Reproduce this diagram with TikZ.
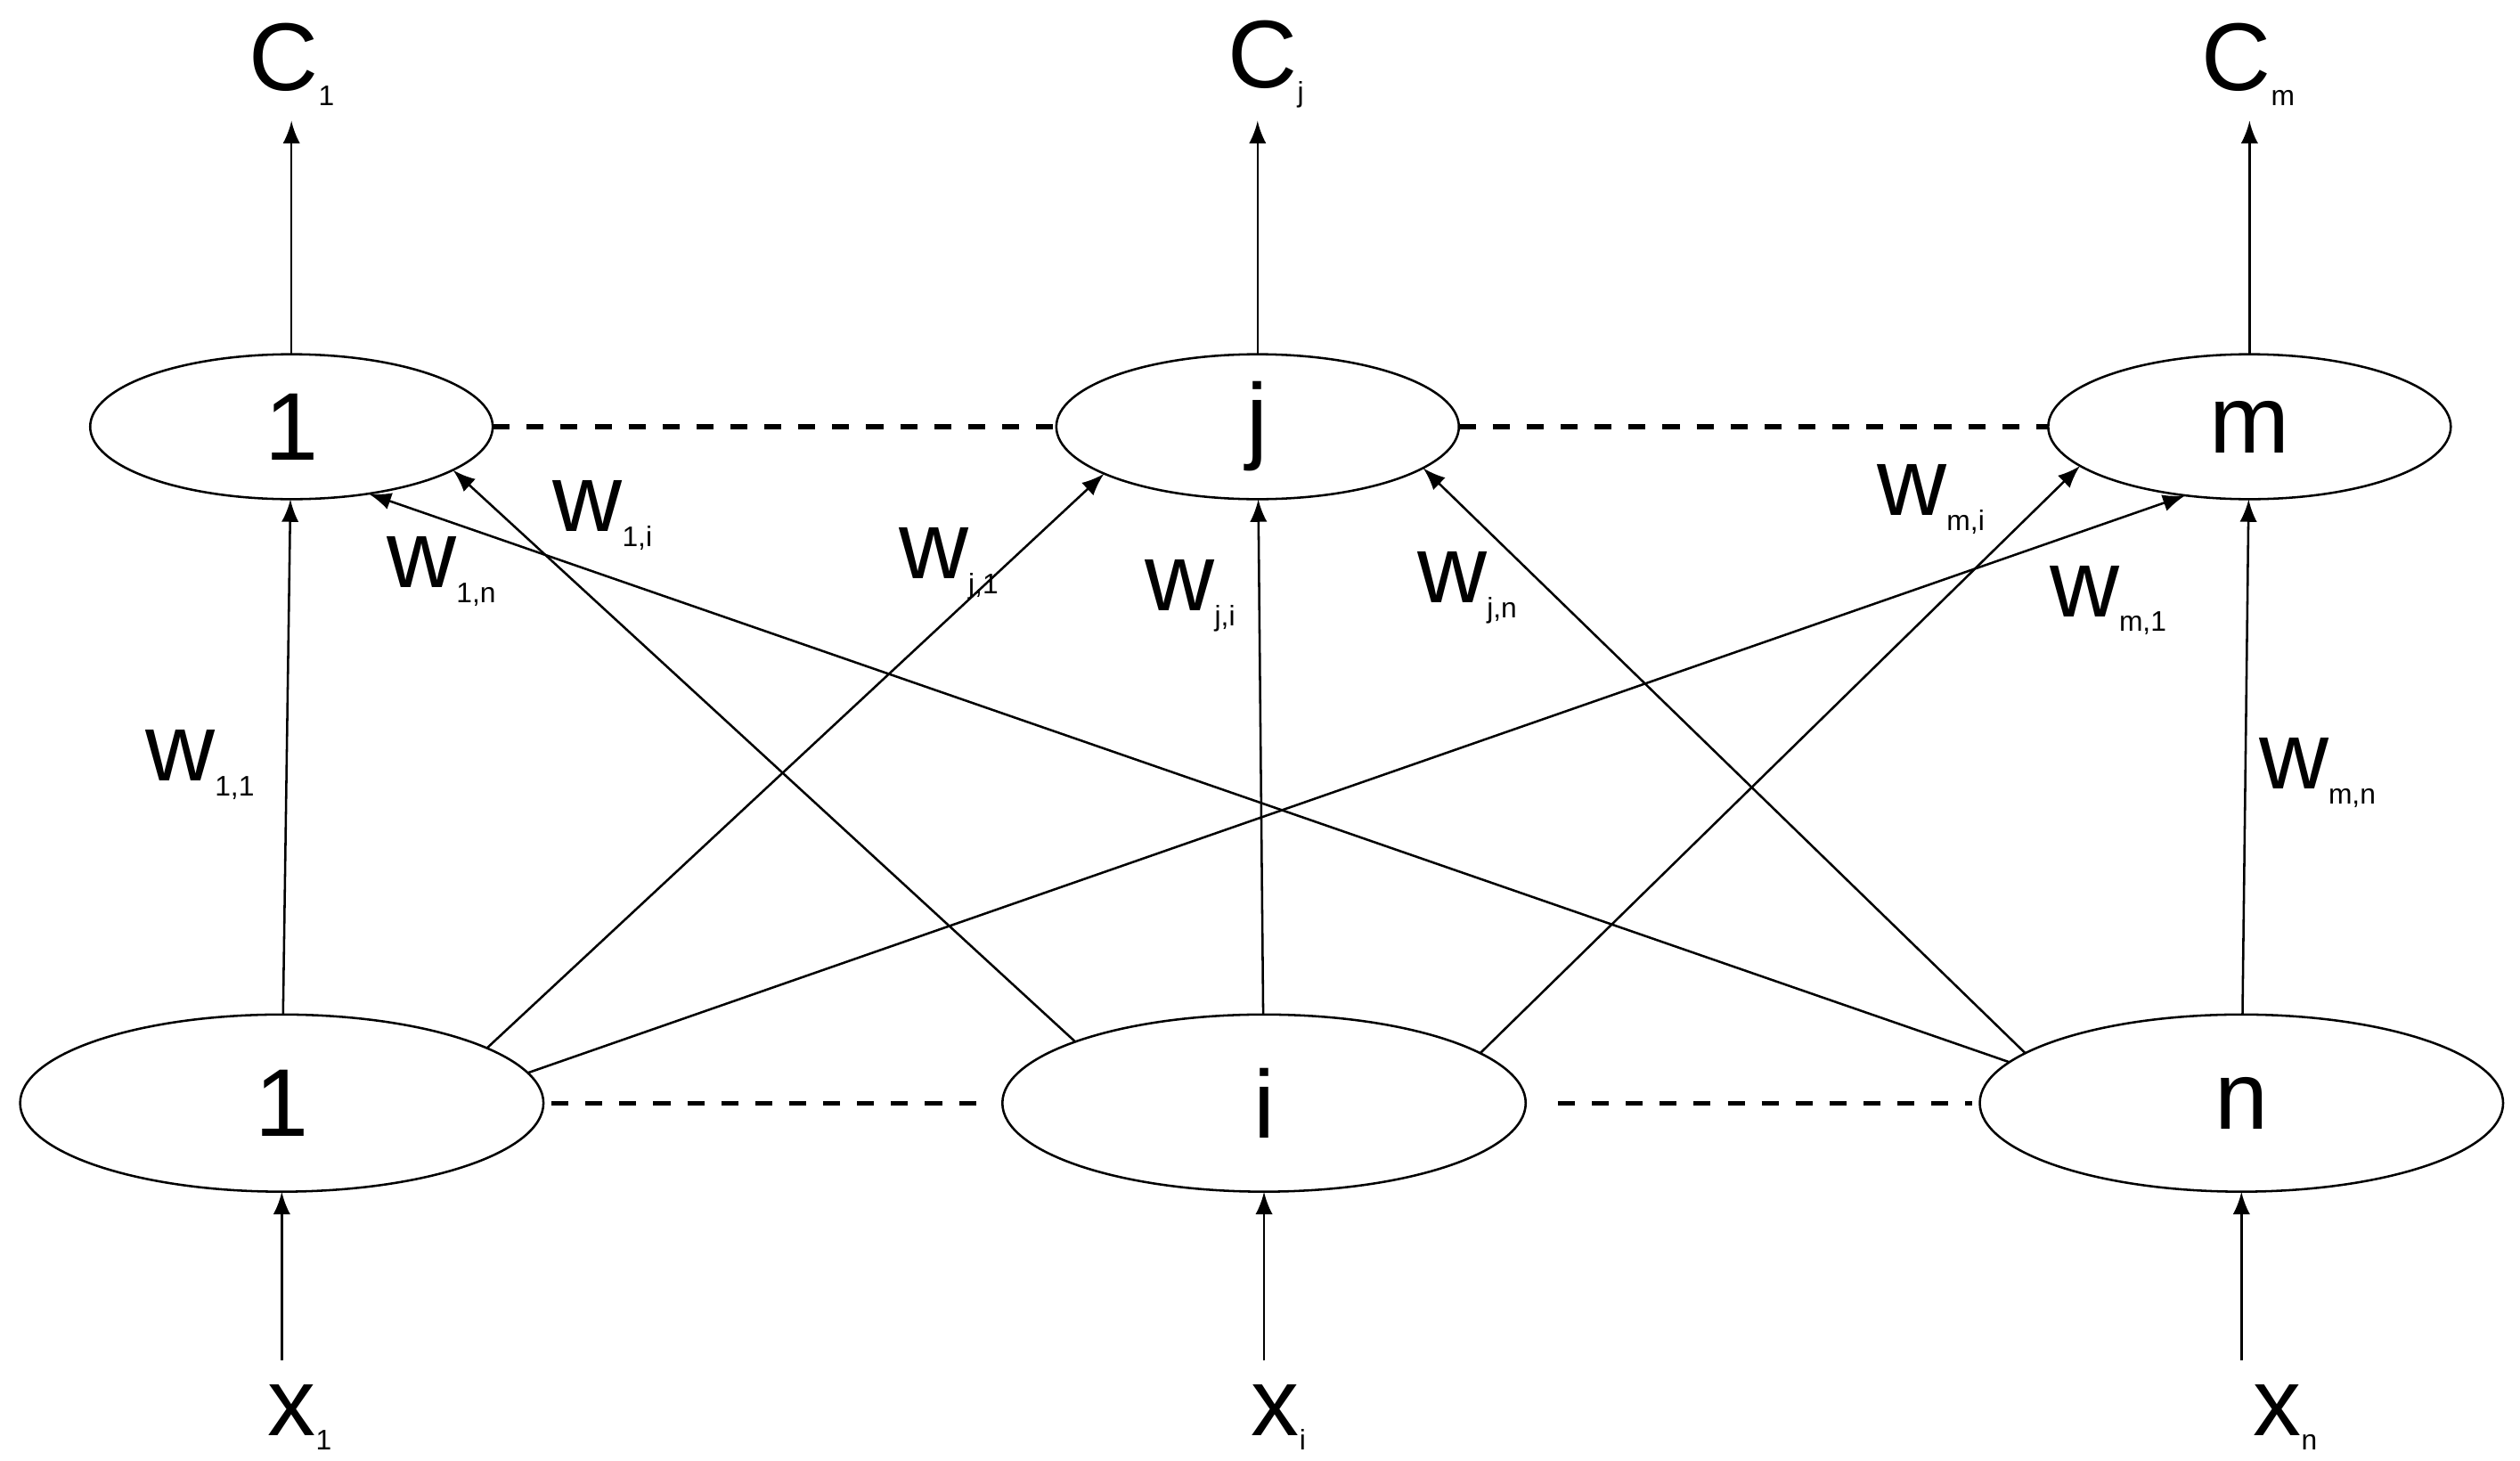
\documentclass[tikz,border=0pt]{standalone}
\usepackage{fontspec}
\setmainfont{Liberation Sans}
\usetikzlibrary{shapes.geometric}
\begin{document}
\begin{tikzpicture}[x=1cm,y=1cm,
	neuron/.style={draw, ellipse, inner sep=0pt, outer sep=0pt, font=\fontsize{17}{19}\selectfont},
	top/.style={neuron, minimum width=2.5cm, minimum height=0.9cm},
	bot/.style={neuron, minimum width=3.25cm, minimum height=1.1cm},
	lbl/.style={font=\fontsize{17}{19}\selectfont},
	>=latex]
		\useasboundingbox (0,0) rectangle (15.65,9.07);
		\node[top] (t1) at (1.81,6.42) {1};
		\node[top] (tj) at (7.81,6.42) {j};
		\node[top] (tm) at (13.97,6.42) {m};
		\node[bot] (b1) at (1.75,2.22) {1};
		\node[bot] (bi) at (7.85,2.22) {i};
		\node[bot] (bn) at (13.92,2.22) {n};
		\node[lbl] (c1) at (1.82,8.67) {C\textsubscript{\tiny 1}};
		\node[lbl] (cj) at (7.87,8.67) {C\textsubscript{\tiny j}};
		\node[lbl] (cm) at (13.97,8.67) {C\textsubscript{\tiny m}};
		\node[lbl] (x1) at (1.87,0.27) {x\textsubscript{\tiny 1}};
		\node[lbl] (xi) at (7.95,0.27) {x\textsubscript{\tiny i}};
		\node[lbl] (xn) at (14.2,0.27) {x\textsubscript{\tiny n}};
		\coordinate (o1) at (1.81,8.32);
		\coordinate (oj) at (7.81,8.32);
		\coordinate (om) at (13.97,8.32);
		\coordinate (i1) at (1.75,0.62);
		\coordinate (ii) at (7.85,0.62);
		\coordinate (in) at (13.92,0.62);
		% outputs and inputs
		\draw[->] (t1) -- (o1);
		\draw[->] (tj) -- (oj);
		\draw[->] (tm) -- (om);
		\draw[->] (i1) -- (b1);
		\draw[->] (ii) -- (bi);
		\draw[->] (in) -- (bn);
		% dashed links
		\draw[dashed, thick] (t1) -- (tj) (tj) -- (tm);
		\draw[dashed, thick] ([xshift=0.05cm]b1.east) -- ([xshift=-0.1cm]bi.west) ([xshift=0.2cm]bi.east) -- ([xshift=-0.05cm]bn.west);
		% weights
		\draw[->] (b1) -- (t1);
		\draw[->] (b1.15) -- (tj.197);
		\draw[->] (b1.7) -- (tm.227);
		\draw[->] (bi.162) -- (t1.345);
		\draw[->] (bi) -- (tj);
		\draw[->] (bi.13) -- (tm.193);
		\draw[->] (bn.170) -- (t1.319);
		\draw[->] (bn.167) -- (tj.346);
		\draw[->] (bn) -- (tm);
		\node[lbl] at (1.25,4.32) {w\textsubscript{\tiny 1,1}};
		\node[lbl] at (2.75,5.52) {w\textsubscript{\tiny 1,n}};
		\node[lbl] at (3.75,5.87) {w\textsubscript{\tiny 1,i}};
		\node[lbl] at (5.9,5.57) {w\textsubscript{\tiny j,1}};
		\node[lbl] at (7.4,5.37) {w\textsubscript{\tiny j,i}};
		\node[lbl] at (9.12,5.42) {w\textsubscript{\tiny j,n}};
		\node[lbl] at (12.0,5.97) {w\textsubscript{\tiny m,i}};
		\node[lbl] at (13.1,5.34) {w\textsubscript{\tiny m,1}};
		\node[lbl] at (14.4,4.27) {w\textsubscript{\tiny m,n}};
\end{tikzpicture}
\end{document}
